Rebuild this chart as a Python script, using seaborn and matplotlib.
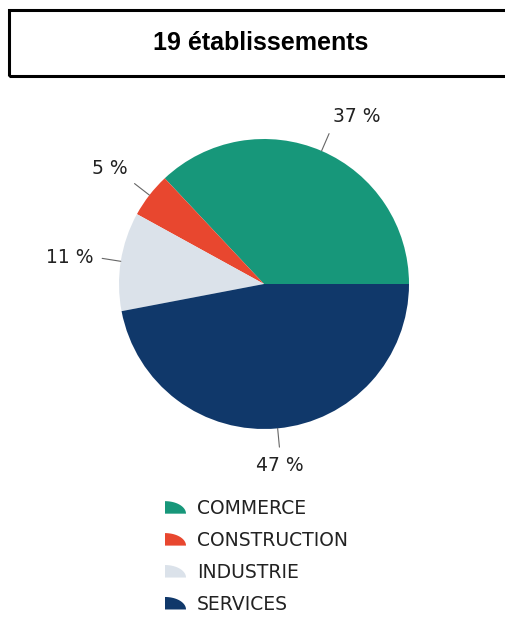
import numpy as np
import seaborn as sns
import matplotlib.pyplot as plt
from matplotlib.patches import Rectangle, Polygon
from matplotlib.legend_handler import HandlerPatch

# data
sectors = ["COMMERCE", "CONSTRUCTION", "INDUSTRIE", "SERVICES"]
shares = [37, 5, 11, 47]
pct_labels = ["37 %", "5 %", "11 %", "47 %"]
colors = ["#17977a", "#e8472f", "#dbe2ea", "#10386a"]
title = "19 établissements"

sns.set_theme(style="white")
plt.rcParams["font.family"] = ["DejaVu Sans"]

W, H = 506, 637
fig = plt.figure(figsize=(W / 100, H / 100), dpi=100)
fig.patch.set_facecolor("white")

# title box (right edge runs off the picture)
fig.patches.append(Rectangle((9 / W, 1 - 76 / H), 1.0, 66 / H, transform=fig.transFigure,
                             fill=False, edgecolor="black", linewidth=2.2, clip_on=False))
fig.text(261 / W, 1 - 43 / H, title, ha="center", va="center",
         fontsize=18, fontweight="bold", color="black", family="Liberation Sans")

# pie axes: centre (264, 284), radius 145 px
cx, cy, r = 264, 284, 145
ax = fig.add_axes([(cx - r) / W, 1 - (cy + r) / H, 2 * r / W, 2 * r / H])
wedges, _ = ax.pie(shares, colors=colors, startangle=0, counterclock=True,
                   radius=1, wedgeprops=dict(linewidth=0))
ax.set_xlim(-1, 1)
ax.set_ylim(-1, 1)
ax.set_aspect("equal")
ax.axis("off")

# outside labels with short leader lines
start = 0
for share, lab in zip(shares, pct_labels):
    mid = np.deg2rad((start + share / 2) / 100 * 360)
    start += share
    c, s = np.cos(mid), np.sin(mid)
    ax.plot([c, 1.13 * c], [s, 1.13 * s], color="#666666", lw=0.8, clip_on=False)
    ha = "left" if c > 0.3 else ("right" if c < -0.3 else "center")
    va = "bottom" if s > 0.3 else ("top" if s < -0.3 else "center")
    ax.text(1.19 * c, 1.19 * s, lab, ha=ha, va=va, fontsize=13.5,
            color="#222222", clip_on=False)


class QuarterHandler(HandlerPatch):
    # legend icon shaped like a quarter of a pie
    def create_artists(self, legend, orig_handle, xdescent, ydescent,
                       width, height, fontsize, trans):
        t = np.linspace(0, np.pi / 2, 20)
        pts = [(-xdescent, -ydescent)] + [(-xdescent + width * np.sin(a),
                                           -ydescent + height * np.cos(a)) for a in t]
        p = Polygon(pts, closed=True, facecolor=orig_handle.get_facecolor(), linewidth=0)
        p.set_transform(trans)
        return [p]


fig.legend(wedges, sectors, loc="upper left",
           bbox_to_anchor=(165 / W, 1 - 499 / H), bbox_transform=fig.transFigure,
           frameon=False, fontsize=13.5, borderpad=0, borderaxespad=0,
           labelspacing=0.69, handlelength=1.12, handleheight=0.65, handletextpad=0.6,
           handler_map={type(wedges[0]): QuarterHandler()}, labelcolor="#222222")

plt.savefig("out.png", dpi=100, facecolor="white")
plt.close()
